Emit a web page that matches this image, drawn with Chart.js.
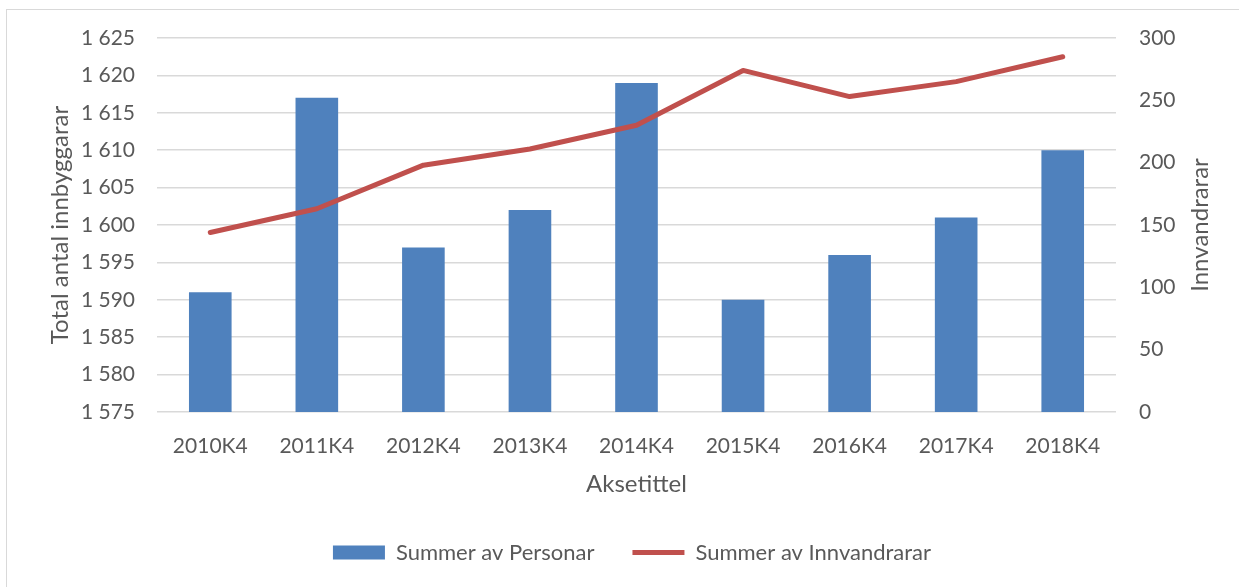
<!DOCTYPE html>
<html>
<head>
<meta charset="utf-8">
<script src="https://cdn.jsdelivr.net/npm/chart.js@4"></script>
<style>
  html, body { margin: 0; padding: 0; background: #fff; overflow: hidden; }
  #frame { position: absolute; left: 6px; top: 9px; width: 1240px; height: 590px; border: 1px solid #d9d9d9; box-sizing: border-box; }
  #wrap { position: absolute; left: 0; top: 0; width: 1239px; height: 587px; }
</style>
</head>
<body>
<div id="frame"></div>
<div id="wrap"><canvas id="c" width="1239" height="587"></canvas></div>
<script>
const categories = ['2010K4', '2011K4', '2012K4', '2013K4', '2014K4', '2015K4', '2016K4', '2017K4', '2018K4'];
const personar = [1591, 1617, 1597, 1602, 1619, 1590, 1596, 1601, 1610];
const innvandrarar = [144, 163, 198, 211, 230, 274, 253, 265, 285];
const leftTicks = { min: 1575, max: 1625, step: 5 };
const rightTicks = { min: 0, max: 300, step: 50 };
const labelsText = {
  personar: 'Summer av Personar',
  innvandrarar: 'Summer av Innvandrarar',
  xTitle: 'Aksetittel',
  yLeftTitle: 'Total antal innbyggarar',
  yRightTitle: 'Innvandrarar'
};

const FONT = 'Lato, "Noto Sans", sans-serif';
const TEXT = '#595959';
Chart.defaults.font.family = FONT;
Chart.defaults.color = TEXT;

const fmt = v => String(v).replace(/\B(?=(\d{3})+(?!\d))/g, ' ');

const rightTitlePlugin = {
  id: 'rightTitle',
  afterDraw(chart) {
    const s = chart.scales.y1;
    const ctx = chart.ctx;
    ctx.save();
    ctx.font = '24px ' + FONT;
    ctx.fillStyle = TEXT;
    ctx.textAlign = 'center';
    ctx.textBaseline = 'middle';
    ctx.translate(1200, (s.top + s.bottom) / 2);
    ctx.rotate(-Math.PI / 2);
    ctx.fillText(labelsText.yRightTitle, 0, 0);
    ctx.restore();
  }
};

new Chart(document.getElementById('c'), {
  data: {
    labels: categories,
    datasets: [
      {
        type: 'bar',
        label: labelsText.personar,
        data: personar,
        yAxisID: 'y',
        backgroundColor: '#4F81BD',
        borderWidth: 0,
        categoryPercentage: 1,
        barPercentage: 0.4,
        pointStyle: 'rect',
        order: 2
      },
      {
        type: 'line',
        label: labelsText.innvandrarar,
        data: innvandrarar,
        yAxisID: 'y1',
        borderColor: '#C0504D',
        backgroundColor: '#C0504D',
        borderWidth: 5,
        borderCapStyle: 'round',
        borderJoinStyle: 'round',
        pointRadius: 0,
        pointHoverRadius: 0,
        tension: 0,
        pointStyle: 'line',
        order: 1
      }
    ]
  },
  options: {
    responsive: false,
    animation: false,
    layout: { padding: { top: 38, left: 25, right: 0, bottom: 13.5 } },
    plugins: {
      tooltip: { enabled: false },
      legend: {
        position: 'bottom',
        labels: {
          usePointStyle: true,
          pointStyleWidth: 52,
          boxHeight: 14,
          padding: 38,
          color: TEXT,
          font: { size: 22, family: FONT },
          sort: (a, b) => a.datasetIndex - b.datasetIndex
        }
      }
    },
    scales: {
      x: {
        grid: { display: false },
        border: { display: false },
        ticks: { color: TEXT, font: { size: 21 }, padding: 14, maxRotation: 0 },
        title: { display: true, text: labelsText.xTitle, color: TEXT, font: { size: 24 }, padding: { top: 0, bottom: 5 } },
        afterFit(s) { s.height = 91.5; }
      },
      y: {
        position: 'left',
        min: leftTicks.min,
        max: leftTicks.max,
        ticks: { stepSize: leftTicks.step, color: TEXT, font: { size: 21 }, padding: 22, callback: v => fmt(v) },
        grid: { color: '#d9d9d9', lineWidth: 1.5, drawTicks: false },
        border: { display: false },
        title: { display: true, text: labelsText.yLeftTitle, color: TEXT, font: { size: 24 }, padding: { top: 21, bottom: 0 } },
        afterFit(s) { s.width = 132; }
      },
      y1: {
        position: 'right',
        min: rightTicks.min,
        max: rightTicks.max,
        ticks: { stepSize: rightTicks.step, color: TEXT, font: { size: 21 }, padding: 23 },
        grid: { display: false, drawTicks: false },
        border: { display: false },
        afterFit(s) { s.width = 123; }
      }
    }
  },
  plugins: [rightTitlePlugin]
});
</script>
</body>
</html>
